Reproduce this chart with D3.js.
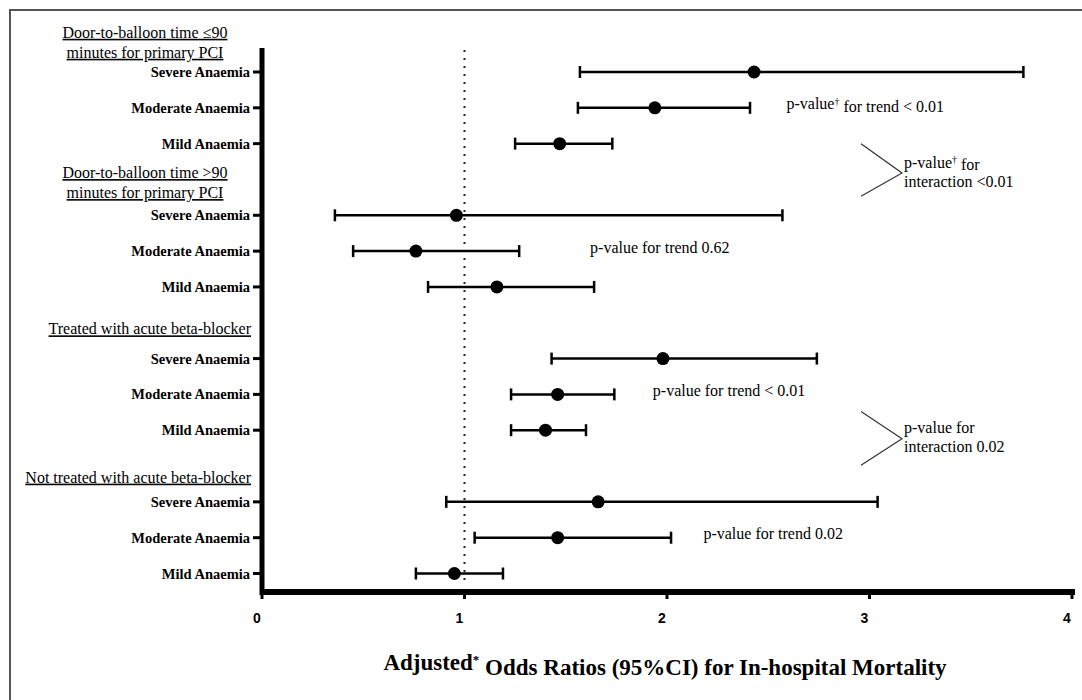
<!DOCTYPE html>
<html>
<head>
    <title>Forest plot</title>
    <script src="https://d3js.org/d3.v7.min.js"></script>
    <style>
        body { margin: 0; background: #fff; }
        svg { display: block; }
        .serif { font-family: "Liberation Serif", "Times New Roman", serif; }
    </style>
</head>
<body>
    <svg id="chart"></svg>
    <script>
        // values
        const groupLabels = [
            ["Door-to-balloon time \u226490", "minutes for primary PCI"],
            ["Door-to-balloon time >90", "minutes for primary PCI"],
            ["Treated with acute beta-blocker"],
            ["Not treated with acute beta-blocker"]
        ];
        const categories = ["Severe Anaemia", "Moderate Anaemia", "Mild Anaemia"];
        const oddsRatio = [2.43, 1.94, 1.47, 0.96, 0.76, 1.16, 1.98, 1.46, 1.40, 1.66, 1.46, 0.95];
        const lowerCI  = [1.57, 1.56, 1.25, 0.36, 0.45, 0.82, 1.43, 1.23, 1.23, 0.91, 1.05, 0.76];
        const upperCI  = [3.76, 2.41, 1.73, 2.57, 1.27, 1.64, 2.74, 1.74, 1.60, 3.04, 2.02, 1.19];
        const xTicks = [0, 1, 2, 3, 4];
        const trendNotes = ["p-value\u2020 for trend < 0.01", "p-value for trend 0.62", "p-value for trend < 0.01", "p-value for trend 0.02"];
        const interactionNotes = [["p-value\u2020 for", "interaction <0.01"], ["p-value for", "interaction 0.02"]];
        const axisTitle = "Adjusted* Odds Ratios (95%CI) for In-hospital Mortality";

        const width = 1082, height = 700;
        const svg = d3.select("#chart").attr("width", width).attr("height", height);

        // outer frame (only top and left edges show)
        svg.append("path")
            .attr("d", `M10,${height}V10H${width}`)
            .attr("fill", "none").attr("stroke", "#555").attr("stroke-width", 2);

        const x = d3.scaleLinear().domain([0, 4]).range([262, 1072]);
        const y = d3.scaleLinear().domain([0, 14]).range([72, 573.5]);   // row slots
        const axisY = 592;

        // flatten rows: group g, category i -> slot g*4+i
        const rows = oddsRatio.map((v, k) => {
            const g = Math.floor(k / 3), i = k % 3;
            return { g, i, slot: g * 4 + i, or: v, lo: lowerCI[k], hi: upperCI[k], label: categories[i] };
        });

        // reference line at OR = 1
        svg.append("line")
            .attr("x1", x(1)).attr("x2", x(1)).attr("y1", 50).attr("y2", axisY - 6)
            .attr("stroke", "#222").attr("stroke-width", 2).attr("stroke-dasharray", "2,6");

        // y axis
        svg.append("line").attr("x1", x(0)).attr("x2", x(0)).attr("y1", 48).attr("y2", axisY + 3)
            .attr("stroke", "#000").attr("stroke-width", 5);
        svg.selectAll(".ytick").data(rows).join("line")
            .attr("x1", x(0) - 9).attr("x2", x(0))
            .attr("y1", d => y(d.slot)).attr("y2", d => y(d.slot))
            .attr("stroke", "#000").attr("stroke-width", 3);

        svg.selectAll(".ylab").data(rows).join("text")
            .attr("class", "serif")
            .attr("x", 250).attr("y", d => y(d.slot)).attr("dy", "0.35em")
            .attr("text-anchor", "end")
            .attr("font-size", 14.5).attr("font-weight", "bold")
            .text(d => d.label);

        // group headers
        const headerShift = [6, 3, 6, 11];
        groupLabels.forEach((lines, g) => {
            const t = svg.append("text").attr("class", "serif")
                .attr("font-size", 16)
                .attr("text-decoration", "underline");
            const mid = y(g * 4 - 1) + headerShift[g];
            if (lines.length > 1) {
                t.attr("text-anchor", "middle");
                lines.forEach((s, j) => t.append("tspan")
                    .attr("x", 145).attr("y", mid + (j - 0.5) * 20).attr("dy", "0.35em").text(s));
            } else {
                t.attr("text-anchor", "end").attr("x", 251)
                    .attr("y", mid).attr("dy", "0.35em")
                    .text(lines[0]);
            }
        });

        // x axis
        svg.append("line").attr("x1", x(0) - 2).attr("x2", x(4) + 3).attr("y1", axisY).attr("y2", axisY)
            .attr("stroke", "#000").attr("stroke-width", 6);
        svg.selectAll(".xtick").data(xTicks).join("line")
            .attr("x1", d => x(d)).attr("x2", d => x(d)).attr("y1", axisY).attr("y2", axisY + 7)
            .attr("stroke", "#000").attr("stroke-width", 3);
        svg.selectAll(".xlab").data(xTicks).join("text")
            .attr("x", d => x(d) - 5).attr("y", 618).attr("dy", "0.35em")
            .attr("text-anchor", "middle")
            .attr("font-family", "'Liberation Sans', Arial, sans-serif")
            .attr("font-size", 14).attr("font-weight", "bold")
            .text(d => d);

        // error bars
        const bars = svg.selectAll(".bar").data(rows).join("g");
        bars.append("line")
            .attr("x1", d => x(d.lo)).attr("x2", d => x(d.hi))
            .attr("y1", d => y(d.slot)).attr("y2", d => y(d.slot))
            .attr("stroke", "#000").attr("stroke-width", 2.5);
        bars.selectAll(".cap").data(d => [d.lo, d.hi].map(v => ({ v, slot: d.slot }))).join("line")
            .attr("x1", c => x(c.v)).attr("x2", c => x(c.v))
            .attr("y1", c => y(c.slot) - 6).attr("y2", c => y(c.slot) + 6)
            .attr("stroke", "#000").attr("stroke-width", 2.5);
        bars.append("circle")
            .attr("cx", d => x(d.or)).attr("cy", d => y(d.slot)).attr("r", 6.5)
            .attr("fill", "#000");

        // annotations
        function withDagger(sel, s) {
            const parts = s.split("\u2020");
            sel.append("tspan").text(parts[0]);
            if (parts.length > 1) {
                sel.append("tspan").attr("dy", "-0.45em").attr("font-size", 10).text("\u2020");
                sel.append("tspan").attr("dy", "0.45em").text(parts[1]);
            }
        }
        const noteX = [2.59, 1.62, 1.93, 2.18];   // where the notes sit, in OR units
        trendNotes.forEach((s, g) => {
            const t = svg.append("text").attr("class", "serif").attr("font-size", 16)
                .attr("x", x(noteX[g])).attr("y", y(g * 4 + 1) - 4).attr("dy", "0.35em");
            withDagger(t, s);
        });

        const bracketSlots = [[2, 2.82, 3.47], [9.48, 10.24, 10.98]];
        interactionNotes.forEach((lines, k) => {
            const [s0, s1, s2] = bracketSlots[k];
            svg.append("path")
                .attr("d", `M861,${y(s0)}L902,${y(s1)}L861,${y(s2)}`)
                .attr("fill", "none").attr("stroke", "#333").attr("stroke-width", 1.2);
            lines.forEach((s, j) => {
                const t = svg.append("text").attr("class", "serif").attr("font-size", 16)
                    .attr("x", 904).attr("y", y(s1) - 11 + j * 19).attr("dy", "0.35em");
                withDagger(t, s);
            });
        });

        // axis title
        const title = svg.append("text").attr("class", "serif")
            .attr("x", 665).attr("y", 662).attr("dy", "0.35em")
            .attr("text-anchor", "middle").attr("font-size", 23).attr("font-weight", "bold");
        const tp = axisTitle.split("*");
        title.append("tspan").text(tp[0]);
        title.append("tspan").attr("dy", "-0.5em").attr("font-size", 13).text("*");
        title.append("tspan").attr("dy", "0.5em").text(tp[1]);
    </script>
</body>
</html>
